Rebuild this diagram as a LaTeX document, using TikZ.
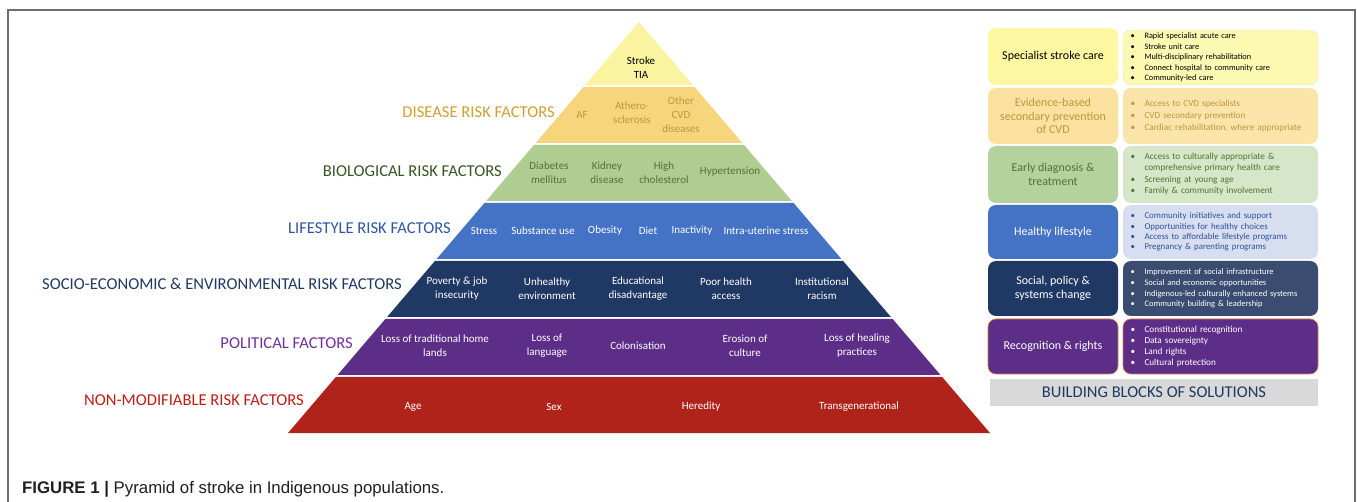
\documentclass[tikz,border=0pt]{standalone}
\usepackage{fontspec}
\setmainfont{Carlito}
\newfontfamily\capfont{Liberation Sans}
\definecolor{cStroke}{RGB}{250,243,160}
\definecolor{cDis}{RGB}{247,213,125}
\definecolor{cBio}{RGB}{175,205,145}
\definecolor{cLife}{RGB}{68,114,196}
\definecolor{cSoc}{RGB}{32,56,100}
\definecolor{cPol}{RGB}{93,46,135}
\definecolor{cNon}{RGB}{176,35,27}
\definecolor{tDis}{RGB}{190,150,62}
\definecolor{tBio}{RGB}{80,115,50}
\definecolor{lDis}{RGB}{208,160,48}
\definecolor{lBio}{RGB}{55,86,35}
\definecolor{lLife}{RGB}{47,85,165}
\definecolor{lSoc}{RGB}{32,56,100}
\definecolor{lPol}{RGB}{112,48,160}
\definecolor{lNon}{RGB}{192,28,22}
\definecolor{bY1}{RGB}{252,247,160}
\definecolor{bY2}{RGB}{252,249,178}
\definecolor{bO1}{RGB}{250,225,160}
\definecolor{bO2}{RGB}{250,228,170}
\definecolor{bG1}{RGB}{180,210,155}
\definecolor{bG2}{RGB}{214,230,200}
\definecolor{bB2}{RGB}{215,222,240}
\definecolor{bN2}{RGB}{58,76,112}
\definecolor{tB2}{RGB}{47,80,155}
\definecolor{frameC}{RGB}{110,110,110}
\definecolor{grayBar}{RGB}{217,217,217}
\definecolor{capC}{RGB}{35,31,32}
\definecolor{orEdge}{RGB}{215,120,60}
\newcommand\pyrlayer[3]{\fill[#3] ({639-0.854*(#1-22)},#1) -- ({639+0.854*(#1-22)},#1) -- ({639+0.854*(#2-22)},#2) -- ({639-0.854*(#2-22)},#2) -- cycle;}
\newcommand\bl{\makebox[14pt][l]{\textbullet}}
\newcommand\bc{\hspace*{14pt}}
\tikzset{
  lab/.style={anchor=east, font=\fontsize{16.6}{18}\selectfont, inner sep=0pt},
  itm/.style={align=center, font=\fontsize{11}{14}\selectfont, inner sep=0pt},
  lbox/.style={rounded corners=8pt, minimum width=130pt, align=center, inner sep=0pt, font=\fontsize{12}{13.5}\selectfont},
  rbox/.style={rounded corners=8pt, minimum width=195pt, text width=180pt, inner xsep=7.5pt, inner ysep=0pt, align=left},
}
\begin{document}
\begin{tikzpicture}[x=1pt,y=-1pt]
\useasboundingbox (0,0) rectangle (1357,502);
\draw[frameC, line width=1.5pt] (8,502) -- (8,10) -- (1355,10) -- (1355,502);
% pyramid
\pyrlayer{22}{85}{cStroke}
\pyrlayer{87}{143}{cDis}
\pyrlayer{145}{201}{cBio}
\pyrlayer{203}{259}{cLife}
\pyrlayer{261}{317}{cSoc}
\pyrlayer{319}{375}{cPol}
\pyrlayer{377}{433}{cNon}
% labels
\node[lab, text=lDis] (labDis) at (555,112) {DISEASE RISK FACTORS};
\node[lab, text=lBio] (labBio) at (502,171) {BIOLOGICAL RISK FACTORS};
\node[lab, text=lLife] (labLife) at (451,228) {LIFESTYLE RISK FACTORS};
\node[lab, text=lSoc] (labSoc) at (402,284) {SOCIO-ECONOMIC \& ENVIRONMENTAL RISK FACTORS};
\node[lab, text=lPol] (labPol) at (353,343) {POLITICAL FACTORS};
\node[lab, text=lNon] (labNon) at (304,400) {NON-MODIFIABLE RISK FACTORS};
% items
\node[itm, text=black] (stroke) at (641,68) {Stroke\\TIA};
\node[itm, text=tDis] (af) at (582,115) {AF};
\node[itm, text=tDis] (ath) at (632,113) {Athero-\\sclerosis};
\node[itm, text=tDis] (ocvd) at (681,115) {Other\\CVD\\diseases};
\node[itm, text=tBio] (dm) at (549,173) {Diabetes\\mellitus};
\node[itm, text=tBio] (kd) at (607,173) {Kidney\\disease};
\node[itm, text=tBio] (hc) at (664,173) {High\\cholesterol};
\node[itm, text=tBio] (ht) at (730,172) {Hypertension};
\node[itm, text=white] (st) at (484,231) {Stress};
\node[itm, text=white] (su) at (543,231) {Substance use};
\node[itm, text=white] (ob) at (605,231) {Obesity};
\node[itm, text=white] (di) at (648,231) {Diet};
\node[itm, text=white] (in) at (692,231) {Inactivity};
\node[itm, text=white] (ius) at (766,231) {Intra-uterine stress};
\node[itm, text=white] (pov) at (457,289) {Poverty \& job\\insecurity};
\node[itm, text=white] (une) at (547,289) {Unhealthy\\environment};
\node[itm, text=white] (edu) at (638,289) {Educational\\disadvantage};
\node[itm, text=white] (pha) at (726,289) {Poor health\\access};
\node[itm, text=white] (inr) at (822,289) {Institutional\\racism};
\node[itm, text=white] (lth) at (435,346) {Loss of traditional home\\lands};
\node[itm, text=white] (lol) at (547,346) {Loss of\\language};
\node[itm, text=white] (col) at (638,346) {Colonisation};
\node[itm, text=white] (eoc) at (745,346) {Erosion of\\culture};
\node[itm, text=white] (lhp) at (857,346) {Loss of healing\\practices};
\node[itm, text=white] (age) at (413,407) {Age};
\node[itm, text=white] (sex) at (554,407) {Sex};
\node[itm, text=white] (her) at (701,407) {Heredity};
\node[itm, text=white] (trg) at (859,407) {Transgenerational};
% right column
\node[lbox, fill=bY1, minimum height=57pt, text=black] (l1) at (1053,56.5) {Specialist stroke care};
\node[rbox, fill=bY2, draw=black!12, minimum height=55pt, font=\fontsize{8.3}{10.5}\selectfont, text=black] (r1) at (1220.5,57.5) {\bl Rapid specialist acute care\\\bl Stroke unit care\\\bl Multi-disciplinary rehabilitation\\\bl Connect hospital to community care\\\bl Community-led care};
\node[lbox, fill=bO1, minimum height=56pt, text=tDis] (l2) at (1053,116) {Evidence-based\\secondary prevention\\of CVD};
\node[rbox, fill=bO2, minimum height=56pt, font=\fontsize{9.2}{11.7}\selectfont, text=tDis] (r2) at (1220.5,116) {\bl Access to CVD specialists\\\bl CVD secondary prevention\\\bl Cardiac rehabilitation, where appropriate};
\node[lbox, fill=bG1, minimum height=57pt, text=tBio] (l3) at (1053,174.5) {Early diagnosis \&\\treatment};
\node[rbox, fill=bG2, minimum height=57pt, font=\fontsize{9.2}{10.5}\selectfont, text=tBio] (r3) at (1220.5,174.5) {\bl Access to culturally appropriate \&\\\bc comprehensive primary health care\\[1.2pt]\bl Screening at young age\\[1.2pt]\bl Family \& community involvement};
\node[lbox, fill=cLife, minimum height=54pt, text=white] (l4) at (1053,232) {Healthy lifestyle};
\node[rbox, fill=bB2, minimum height=54pt, font=\fontsize{8.9}{10.4}\selectfont, text=tB2] (r4) at (1220.5,232) {\bl Community initiatives and support\\\bl Opportunities for healthy choices\\\bl Access to affordable lifestyle programs\\\bl Pregnancy \& parenting programs};
\node[lbox, fill=cSoc, minimum height=55pt, text=white] (l5) at (1053,288.5) {Social, policy \&\\systems change};
\node[rbox, fill=bN2, minimum height=55pt, font=\fontsize{8.5}{10.6}\selectfont, text=white] (r5) at (1220.5,288.5) {\bl Improvement of social infrastructure\\\bl Social and economic opportunities\\\bl Indigenous-led culturally enhanced systems\\\bl Community building \& leadership};
\node[lbox, fill=cPol, draw=orEdge, line width=0.6pt, minimum height=55pt, text=white] (l6) at (1053,346.5) {Recognition \& rights};
\node[rbox, fill=cPol, draw=orEdge, line width=0.6pt, minimum height=55pt, font=\fontsize{9.2}{11.3}\selectfont, text=white] (r6) at (1220.5,346.5) {\bl Constitutional recognition\\\bl Data sovereignty\\\bl Land rights\\\bl Cultural protection};
\node[fill=grayBar, minimum width=328pt, minimum height=27pt, inner sep=0pt, text=lSoc, font=\fontsize{16.5}{18}\selectfont] (bb) at (1154,392.5) {BUILDING BLOCKS OF SOLUTIONS};
% caption
\node[anchor=base west, inner sep=0pt, text=capC, font=\capfont\fontsize{16.8}{18}\selectfont] (cap) at (22,493) {\textbf{FIGURE 1 |} Pyramid of stroke in Indigenous populations.};
\end{tikzpicture}
\end{document}
